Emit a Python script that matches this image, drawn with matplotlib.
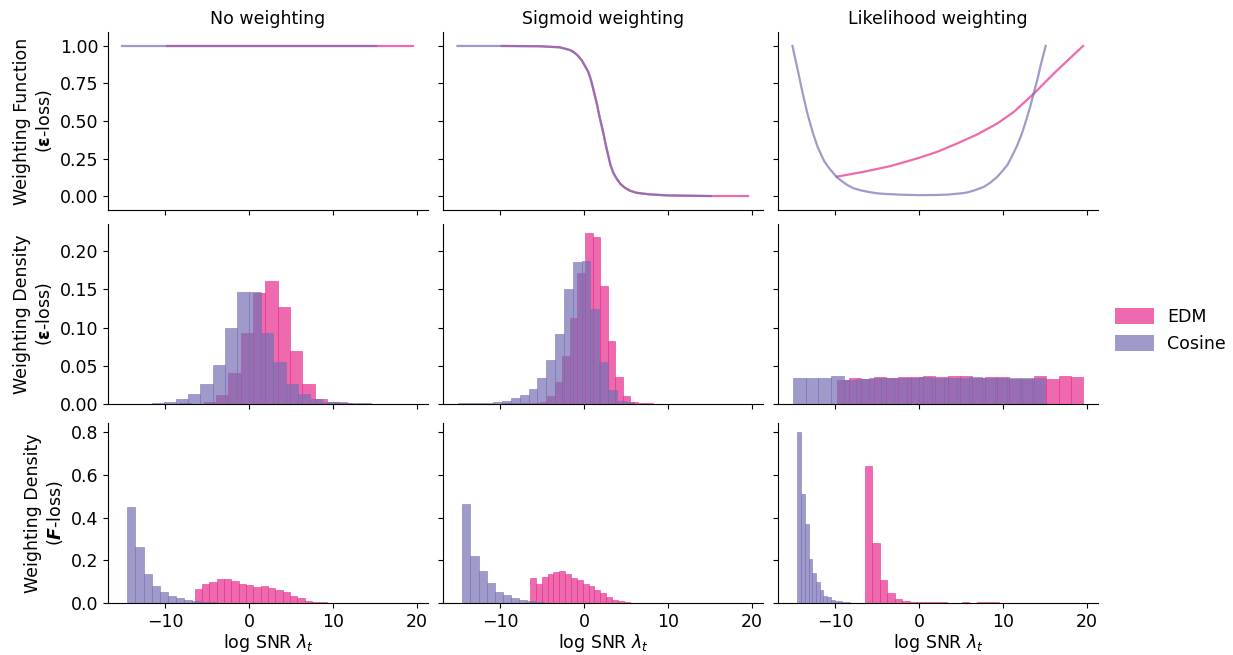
import numpy as np
import matplotlib.pyplot as plt
from matplotlib.patches import Patch

plt.rcParams["font.size"] = 12.5

EDM_COLOR = "#e7298a"
COS_COLOR = "#7570b3"
ALPHA = 0.7

col_titles = ["No weighting", "Sigmoid weighting", "Likelihood weighting"]
row_labels = ["Weighting Function\n($\\boldsymbol{\\varepsilon}$-loss)",
              "Weighting Density\n($\\boldsymbol{\\varepsilon}$-loss)",
              "Weighting Density\n($\\boldsymbol{F}$-loss)"]
series_names = ["EDM", "Cosine"]

# --- top row: weighting functions (log SNR, weight) ---
none_edm_x = [-9.8, 19.52]
none_edm_y = [1.0, 1.0]
none_cos_x = [-15.08, 15.08]
none_cos_y = [1.0, 1.0]

sig_x = [-15.08, -9.8, -5.27, -2.89, -1.70, -1.31, -0.83, -0.31, 0.08, 0.48, 0.76,
         1.07, 1.31, 1.55, 1.79, 2.07, 2.34, 2.58, 2.86, 3.14, 3.45, 3.85, 4.33,
         4.84, 5.44, 6.23, 7.02, 7.82, 10.0, 15.08, 19.52]
sig_y = [1.0, 1.0, 0.998, 0.991, 0.973, 0.962, 0.940, 0.907, 0.869, 0.829, 0.784,
         0.718, 0.662, 0.607, 0.540, 0.473, 0.407, 0.340, 0.273, 0.207, 0.158, 0.118, 0.080,
         0.056, 0.036, 0.022, 0.016, 0.011, 0.004, 0.0, 0.0]

like_edm_x = [-9.8, -6.55, -3.38, -0.2, 2.18, 4.56, 6.94, 9.32, 11.31, 13.69, 16.07, 19.52]
like_edm_y = [0.129, 0.162, 0.2, 0.251, 0.295, 0.351, 0.411, 0.484, 0.562, 0.684, 0.818, 1.0]
like_cos_x = [-15.08, -14.49, -13.9, -13.3, -12.7, -12.1, -11.7, -11.3, -10.9, -10.52,
              -10.1, -9.73, -9.1, -8.54, -7.8, -6.95, -6.0, -4.96, -4.0, -2.19, 0.0,
              2.18, 3.5, 5.0, 5.75, 6.7, 7.74, 8.5, 9.32, 9.9, 10.51, 11.1, 11.7,
              12.2, 12.69, 13.2, 13.69, 14.1, 14.48, 15.07]
like_cos_y = [1.0, 0.85, 0.695, 0.55, 0.43, 0.33, 0.28, 0.233, 0.2, 0.173,
              0.145, 0.122, 0.095, 0.073, 0.052, 0.038, 0.027, 0.018, 0.014, 0.009, 0.006,
              0.007, 0.01, 0.018, 0.024, 0.04, 0.062, 0.09, 0.129, 0.165, 0.207, 0.27, 0.34,
              0.41, 0.495, 0.59, 0.695, 0.78, 0.873, 1.0]

# --- middle row: weighting densities, eps-loss (bin start, bin width, heights) ---
eps_none_edm_bins = (-9.8, 1.468)
eps_none_edm = [0.0003, 0.001, 0.0005, 0.002, 0.012, 0.041, 0.093, 0.146, 0.161, 0.127,
                0.070, 0.026, 0.006, 0.002, 0.0008, 0.0006, 0.0005, 0.0004, 0.0003, 0.0003]
eps_none_cos_bins = (-14.5, 1.45)
eps_none_cos = [0.0005, 0.0005, 0.001, 0.0026, 0.006, 0.013, 0.026, 0.051, 0.099, 0.147,
                0.147, 0.093, 0.055, 0.026, 0.013, 0.006, 0.0026, 0.002, 0.001, 0.0008]

eps_sig_edm_bins = (-9.8, 0.9)
eps_sig_edm = [0.0008, 0.0008, 0.0008, 0.001, 0.0013, 0.003, 0.0105, 0.029, 0.063, 0.113,
               0.172, 0.2246, 0.219, 0.154, 0.083, 0.0355, 0.0105, 0.0026, 0.0018, 0.0013,
               0.0005, 0.0004, 0.0003]
eps_sig_cos_bins = (-15.0, 1.05)
eps_sig_cos = [0.001, 0.001, 0.001, 0.0013, 0.0026, 0.004, 0.008, 0.012, 0.020, 0.034,
               0.058, 0.092, 0.151, 0.186, 0.187, 0.125, 0.055, 0.018, 0.004, 0.002,
               0.0005, 0.0003]

eps_like_edm_bins = (-9.8, 1.468)
eps_like_edm = [0.0316, 0.0342, 0.0329, 0.0351, 0.0342, 0.0351, 0.0351, 0.0368, 0.0355, 0.0368,
                0.0368, 0.0342, 0.0351, 0.0351, 0.0329, 0.0329, 0.0368, 0.0329, 0.0368, 0.0355]
eps_like_cos_bins = (-15.0, 1.5)
eps_like_cos = [0.0342, 0.0342, 0.0342, 0.0368, 0.0316, 0.0329, 0.0335, 0.0345, 0.0340, 0.0335,
                0.0350, 0.0345, 0.0340, 0.0335, 0.0355, 0.0345, 0.0340, 0.0335, 0.0335, 0.0335]

# --- bottom row: weighting densities, F-loss ---
f_none_edm_bins = (-6.49, 0.873)
f_none_edm = [0.064, 0.088, 0.097, 0.111, 0.111, 0.102, 0.088, 0.083, 0.074, 0.078,
              0.069, 0.060, 0.050, 0.031, 0.022, 0.008, 0.003, 0.003, 0.001, 0.0008]
f_none_cos_bins = (-14.5, 0.9667)
f_none_cos = [0.450, 0.264, 0.135, 0.078, 0.050, 0.031, 0.022, 0.0125, 0.008, 0.006,
              0.003, 0.002, 0.0015, 0.001, 0.0008]

f_sig_edm_bins = (-6.45, 0.698)
f_sig_edm = [0.116, 0.088, 0.121, 0.135, 0.144, 0.149, 0.135, 0.116, 0.107, 0.088,
             0.078, 0.060, 0.045, 0.027, 0.0125, 0.008, 0.003, 0.0015, 0.0015, 0.001]
f_sig_cos_bins = (-14.5, 0.9667)
f_sig_cos = [0.463, 0.22, 0.149, 0.0925, 0.050, 0.036, 0.022, 0.0125, 0.008, 0.003,
             0.002, 0.001]

f_like_edm_bins = (-6.47, 0.89)
f_like_edm = [0.643, 0.281, 0.107, 0.045, 0.017, 0.008, 0.003, 0.003, 0.003, 0.003,
              0.003, 0.002, 0.002, 0.003, 0.002, 0.003, 0.003, 0.003, 0.002]
f_like_cos_bins = (-14.5, 0.444)
f_like_cos = [0.803, 0.511, 0.370, 0.205, 0.140, 0.097, 0.060, 0.031, 0.027, 0.0125,
              0.008, 0.008, 0.003, 0.003, 0.001]


def draw_hist(ax, bins, heights, color):
    start, width = bins
    left = start + width * np.arange(len(heights))
    ax.bar(left, heights, width=width, align="edge", color=color, alpha=ALPHA,
           edgecolor=color, linewidth=0.5)


fig, axes = plt.subplots(3, 3, figsize=(12.33, 6.55), dpi=100, sharex=True, sharey="row")

# axes boxes in pixels: (left, right) per column, (top, bottom) per row
W, H = 1233, 655
col_px = [(108, 428), (443, 763), (778, 1098)]
row_px = [(32, 210), (224, 404), (423, 603)]
for r in range(3):
    for c in range(3):
        x0, x1 = col_px[c]
        y0, y1 = row_px[r]
        axes[r, c].set_position([x0 / W, 1 - y1 / H, (x1 - x0) / W, (y1 - y0) / H])

lines = [
    (none_edm_x, none_edm_y, none_cos_x, none_cos_y),
    (sig_x[1:], sig_y[1:], sig_x[:-1], sig_y[:-1]),
    (like_edm_x, like_edm_y, like_cos_x, like_cos_y),
]
for c, (ex, ey, cx, cy) in enumerate(lines):
    ax = axes[0, c]
    ax.plot(ex, ey, color=EDM_COLOR, alpha=ALPHA, lw=1.6)
    ax.plot(cx, cy, color=COS_COLOR, alpha=ALPHA, lw=1.6)
    ax.set_title(col_titles[c], fontsize=12.5)

eps_hists = [(eps_none_edm_bins, eps_none_edm, eps_none_cos_bins, eps_none_cos),
             (eps_sig_edm_bins, eps_sig_edm, eps_sig_cos_bins, eps_sig_cos),
             (eps_like_edm_bins, eps_like_edm, eps_like_cos_bins, eps_like_cos)]
f_hists = [(f_none_edm_bins, f_none_edm, f_none_cos_bins, f_none_cos),
           (f_sig_edm_bins, f_sig_edm, f_sig_cos_bins, f_sig_cos),
           (f_like_edm_bins, f_like_edm, f_like_cos_bins, f_like_cos)]
for r, hists in ((1, eps_hists), (2, f_hists)):
    for c, (eb, eh, cb, ch) in enumerate(hists):
        draw_hist(axes[r, c], eb, eh, EDM_COLOR)
        draw_hist(axes[r, c], cb, ch, COS_COLOR)

for r in range(3):
    axes[r, 0].set_ylabel(row_labels[r])
for c in range(3):
    axes[2, c].set_xlabel("log SNR $\\lambda_t$", labelpad=1)

for ax in axes.flat:
    ax.spines["top"].set_visible(False)
    ax.spines["right"].set_visible(False)
    ax.set_xticks([-10, 0, 10, 20])

axes[0, 0].set_xlim(-16.8, 21.3)
axes[0, 0].set_ylim(-0.093, 1.093)
axes[0, 0].set_yticks([0, 0.25, 0.5, 0.75, 1.0])
axes[1, 0].set_ylim(0, 0.2358)
axes[1, 0].set_yticks([0, 0.05, 0.1, 0.15, 0.2])
axes[2, 0].set_ylim(0, 0.843)
axes[2, 0].set_yticks([0, 0.2, 0.4, 0.6, 0.8])

handles = [Patch(facecolor=EDM_COLOR, alpha=ALPHA, label=series_names[0]),
           Patch(facecolor=COS_COLOR, alpha=ALPHA, label=series_names[1])]
fig.legend(handles=handles, loc="center left", bbox_to_anchor=(0.899, 0.4954),
           frameon=False, handlelength=2.2, handleheight=1.0, borderaxespad=0.0)

fig.savefig("out.png", dpi=100)
